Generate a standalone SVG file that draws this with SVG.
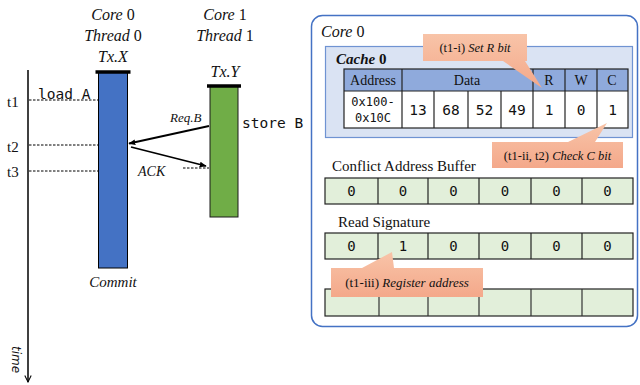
<svg xmlns="http://www.w3.org/2000/svg" width="640" height="385" viewBox="0 0 640 385" font-family="'Liberation Serif', serif">
  <defs>
    <marker id="arr" viewBox="0 0 10 10" refX="9" refY="5" markerWidth="7" markerHeight="7" orient="auto-start-reverse" markerUnits="userSpaceOnUse">
      <path d="M0,1 L10,5 L0,9 z" fill="#000"/>
    </marker>
    <marker id="openarr" viewBox="0 0 10 10" refX="9" refY="5" markerWidth="8" markerHeight="8" orient="auto" markerUnits="userSpaceOnUse">
      <path d="M1,1 L9,5 L1,9" fill="none" stroke="#000" stroke-width="1.3"/>
    </marker>
    <linearGradient id="callout" x1="0" y1="0" x2="0" y2="1">
      <stop offset="0" stop-color="#f8c4a8"/>
      <stop offset="1" stop-color="#f4a88a"/>
    </linearGradient>
  </defs>
  <style>
    .serif { font-family: 'Liberation Serif', serif; fill: #111; }
    .mono { font-family: 'DejaVu Sans Mono', monospace; fill: #111; }
    .it { font-style: italic; }
    .dash { stroke: #000; stroke-width: 1; stroke-dasharray: 2.5 1.5; fill: none; }
    .buf { fill: #e2efda; stroke: #222; stroke-width: 1.2; }
    .hdr { fill: #8faadc; }
    .call { fill: url(#callout); }
  </style>

  <!-- time axis -->
  <g id="time-axis">
    <line x1="28" y1="70" x2="28" y2="382" stroke="#000" stroke-width="1.5" marker-end="url(#openarr)"/>
    <text class="it" transform="translate(12,346) rotate(90)" font-family="'DejaVu Sans', sans-serif" font-size="12" fill="#111">time</text>
    <text class="serif" x="7" y="107" font-size="15">t1</text>
    <text class="serif" x="7" y="152" font-size="15">t2</text>
    <text class="serif" x="7" y="177" font-size="15">t3</text>
  </g>

  <!-- thread 0 -->
  <g id="thread0">
    <text class="serif" x="113" y="20" font-size="16" text-anchor="middle"><tspan class="it">Core</tspan> 0</text>
    <text class="serif" x="113" y="41" font-size="16" text-anchor="middle"><tspan class="it">Thread</tspan> 0</text>
    <text class="serif it" x="113" y="62" font-size="16" text-anchor="middle">Tx.X</text>
    <rect x="98.5" y="72" width="29" height="196" fill="#4472c4" stroke="#000" stroke-width="1"/>
    <line x1="95.5" y1="72" x2="130.5" y2="72" stroke="#000" stroke-width="3.5"/>
    <text class="serif it" x="113" y="287" font-size="15" text-anchor="middle">Commit</text>
    <text class="mono" x="38" y="99" font-size="14.5">load A</text>
  </g>

  <!-- thread 1 -->
  <g id="thread1">
    <text class="serif" x="225" y="20" font-size="16" text-anchor="middle"><tspan class="it">Core</tspan> 1</text>
    <text class="serif" x="225" y="41" font-size="16" text-anchor="middle"><tspan class="it">Thread</tspan> 1</text>
    <text class="serif it" x="225" y="77" font-size="16" text-anchor="middle">Tx.Y</text>
    <rect x="210" y="86" width="28" height="131" fill="#70ad47" stroke="#1a1a1a" stroke-width="1"/>
    <line x1="207" y1="86" x2="241" y2="86" stroke="#000" stroke-width="3.5"/>
    <text class="mono" x="242" y="128" font-size="14.5">store B</text>
  </g>

  <!-- connectors -->
  <g id="connectors">
    <line class="dash" x1="29" y1="100" x2="98" y2="100"/>
    <line class="dash" x1="29" y1="145" x2="98" y2="145"/>
    <line class="dash" x1="29" y1="171" x2="98" y2="171"/>
    <line class="dash" x1="183" y1="168" x2="209" y2="168"/>
    <line x1="209" y1="126" x2="129" y2="143.5" stroke="#000" stroke-width="1.8" marker-end="url(#arr)"/>
    <line x1="131" y1="147" x2="206" y2="166" stroke="#000" stroke-width="1.8" marker-end="url(#arr)"/>
    <text class="serif it" x="170" y="122" font-size="13">Req.B</text>
    <text class="serif it" x="138" y="176" font-size="14">ACK</text>
  </g>

  <!-- core 0 structures -->
  <g id="core0">
    <rect x="311.5" y="15.5" width="326" height="311" rx="11" fill="#fff" stroke="#4472c4" stroke-width="1.5"/>
    <text class="serif" x="321" y="37" font-size="16"><tspan class="it">Core</tspan> 0</text>
  </g>

  <g id="cache0">
    <rect x="325.5" y="46.5" width="307" height="91" fill="#dae3f3" stroke="#6f93d2" stroke-width="1.2"/>
    <text class="serif it" x="336" y="64" font-size="15" font-weight="bold">Cache <tspan font-style="normal">0</tspan></text>
    <!-- header row -->
    <rect class="hdr" x="344" y="69" width="284" height="22"/>
    <rect x="344" y="91" width="284" height="37" fill="#fff"/>
    <g stroke="#222" stroke-width="1.2">
      <rect x="344" y="69" width="284" height="59" fill="none"/>
      <line x1="344" y1="91" x2="628" y2="91"/>
      <line x1="402" y1="69" x2="402" y2="128"/>
      <line x1="434" y1="91" x2="434" y2="128"/>
      <line x1="468" y1="91" x2="468" y2="128"/>
      <line x1="501" y1="91" x2="501" y2="128"/>
      <line x1="533" y1="69" x2="533" y2="128"/>
      <line x1="565" y1="69" x2="565" y2="128"/>
      <line x1="597" y1="69" x2="597" y2="128"/>
    </g>
    <g class="serif" font-size="14" text-anchor="middle">
      <text x="373" y="85">Address</text>
      <text x="467" y="85">Data</text>
      <text x="549" y="85">R</text>
      <text x="581" y="85">W</text>
      <text x="612" y="85">C</text>
    </g>
    <g class="mono" font-size="12" text-anchor="middle">
      <text x="373" y="106">0x100-</text>
      <text x="373" y="122">0x10C</text>
    </g>
    <g class="mono" font-size="14.5" text-anchor="middle">
      <text x="418" y="115">13</text>
      <text x="451" y="115">68</text>
      <text x="484.5" y="115">52</text>
      <text x="517" y="115">49</text>
      <text x="549" y="115">1</text>
      <text x="581" y="115">0</text>
      <text x="612.5" y="115">1</text>
    </g>
  </g>

  <g id="conflict-buffer">
    <text class="serif" x="332" y="171" font-size="15">Conflict Address Buffer</text>
    <rect class="buf" x="325" y="178" width="308" height="26"/>
    <g stroke="#222" stroke-width="1.2">
      <line x1="378" y1="178" x2="378" y2="204"/>
      <line x1="428" y1="178" x2="428" y2="204"/>
      <line x1="479" y1="178" x2="479" y2="204"/>
      <line x1="531" y1="178" x2="531" y2="204"/>
      <line x1="582" y1="178" x2="582" y2="204"/>
    </g>
    <g class="mono" font-size="14" text-anchor="middle">
      <text x="351.5" y="196">0</text>
      <text x="403" y="196">0</text>
      <text x="453.5" y="196">0</text>
      <text x="505" y="196">0</text>
      <text x="556.5" y="196">0</text>
      <text x="607.5" y="196">0</text>
    </g>
  </g>

  <g id="read-signature">
    <text class="serif" x="338" y="227" font-size="15">Read Signature</text>
    <rect class="buf" x="325" y="233" width="308" height="26"/>
    <g stroke="#222" stroke-width="1.2">
      <line x1="378" y1="233" x2="378" y2="259"/>
      <line x1="428" y1="233" x2="428" y2="259"/>
      <line x1="479" y1="233" x2="479" y2="259"/>
      <line x1="531" y1="233" x2="531" y2="259"/>
      <line x1="582" y1="233" x2="582" y2="259"/>
    </g>
    <g class="mono" font-size="14" text-anchor="middle">
      <text x="351.5" y="251">0</text>
      <text x="403" y="251">1</text>
      <text x="453.5" y="251">0</text>
      <text x="505" y="251">0</text>
      <text x="556.5" y="251">0</text>
      <text x="607.5" y="251">0</text>
    </g>
  </g>

  <g id="third-buffer">
    <rect class="buf" x="325" y="289" width="308" height="27"/>
    <g stroke="#333" stroke-width="1.2">
      <line x1="379" y1="289" x2="379" y2="316"/>
      <line x1="428" y1="289" x2="428" y2="316"/>
      <line x1="479" y1="289" x2="479" y2="316"/>
      <line x1="531" y1="289" x2="531" y2="316"/>
      <line x1="582" y1="289" x2="582" y2="316"/>
    </g>
  </g>

  <!-- callouts -->
  <g id="callout-set-r">
    <path class="call" d="M423,34 H527 V61 H525 L542,88 L503,61 H423 Z"/>
    <text class="serif" x="475" y="52" font-size="12.5" text-anchor="middle">(t1-i) <tspan class="it">Set R bit</tspan></text>
  </g>

  <g id="callout-check-c">
    <path class="call" d="M492,142 H568 L607,123 L595,142 H623 V168 H492 Z"/>
    <text class="serif" x="557.5" y="160" font-size="12.5" text-anchor="middle">(t1-ii, t2) <tspan class="it">Check C bit</tspan></text>
  </g>

  <g id="callout-register">
    <path class="call" d="M331,268 H362 L392,252 L394,268 H483 V297 H331 Z"/>
    <text class="serif" x="407" y="287" font-size="13" text-anchor="middle">(t1-iii) <tspan class="it">Register address</tspan></text>
  </g>
</svg>
